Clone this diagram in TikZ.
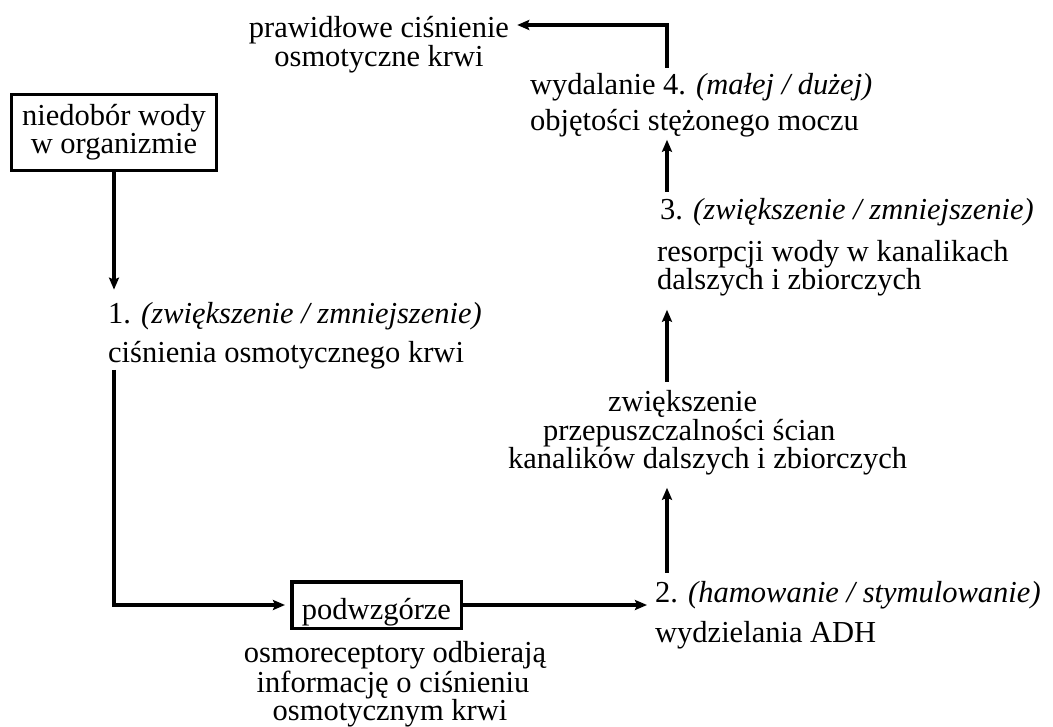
\documentclass[tikz,border=0pt]{standalone}
\usepackage{fontspec}
\setmainfont{Liberation Serif}
\usetikzlibrary{arrows.meta}
\begin{document}
\begin{tikzpicture}[x=1pt,y=-1pt,
  txt/.style={inner sep=0pt, anchor=base west, font=\fontsize{30.5}{27}\selectfont},
  ctxt/.style={inner sep=0pt, anchor=base, font=\fontsize{30.5}{27}\selectfont},
  boxed/.style={draw, line width=3.5pt, inner sep=0pt, align=center, font=\fontsize{30.5}{28}\selectfont},
  arr/.style={line width=3.3pt, -{Stealth[length=12pt,width=10pt,inset=2pt]}}]
\useasboundingbox (0,0) rectangle (1053,727);
% left column
\node[boxed, minimum width=205pt, minimum height=76pt] (need) at (114,132.5) {niedobór wody\\w organizmie};
\node[txt] (n1) at (108,324) {1. \textit{(zwiększenie / zmniejszenie)}};
\node[txt] (n2) at (108,363) {ciśnienia osmotycznego krwi};
% hypothalamus
\node[boxed, minimum width=169.5pt, minimum height=46.5pt, text height=28pt, text depth=0pt] (hyp) at (376.5,605) {podwzgórze};
\node[ctxt] (o1) at (395,662) {osmoreceptory odbierają};
\node[ctxt] (o2) at (393,692) {informację o ciśnieniu};
\node[ctxt] (o3) at (390,720.5) {osmotycznym krwi};
% right column
\node[txt] (a1) at (655,602) {2. \textit{(hamowanie / stymulowanie)}};
\node[txt] (a2) at (655,642) {wydzielania ADH};
\node[txt] (z1) at (608,412) {zwiększenie};
\node[txt] (z2) at (543,440) {przepuszczalności ścian};
\node[txt] (z3) at (508,468) {kanalików dalszych i zbiorczych};
\node[txt] (r1) at (660,220) {3. \textit{(zwiększenie / zmniejszenie)}};
\node[txt] (r2) at (657,262) {resorpcji wody w kanalikach};
\node[txt] (r3) at (657,290) {dalszych i zbiorczych};
\node[txt] (w1) at (530,95) {wydalanie 4. \textit{(małej / dużej)}};
\node[txt] (w2) at (530,131) {objętości stężonego moczu};
\node[inner sep=0pt, align=center, font=\fontsize{30.5}{25}\selectfont] (p1) at (379,44.4) {prawidłowe ciśnienie\\osmotyczne krwi};
% helper coordinates
\coordinate (col) at (667,0);
\coordinate (ctop) at (667,25);
% connectors
\draw[arr, shorten >=13pt] (need.south) -- (need.south |- n1.north);
\draw[arr, shorten >=5pt] (need.south |- n2.south) -- (need.south |- hyp.west) -- (hyp.west);
\draw[arr, shorten >=8pt] (hyp.east) -- (hyp.east -| a1.west);
\draw[arr, shorten <=8pt, shorten >=13pt] (col |- a1.north) -- (col |- z3.south);
\draw[arr, shorten <=9pt, shorten >=13pt] (col |- z1.north) -- (col |- r3.south);
\draw[arr, shorten <=7pt, shorten >=2pt] (col |- r1.north) -- (col |- w2.south);
\draw[arr, shorten <=6pt, shorten >=8pt] (col |- w1.north) -- (ctop) -- (ctop -| p1.east);
\end{tikzpicture}
\end{document}
